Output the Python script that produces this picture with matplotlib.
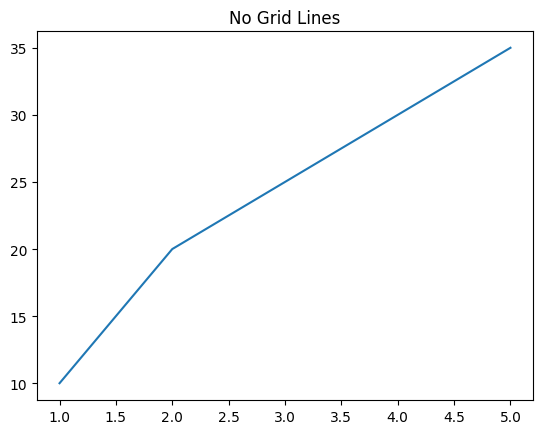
import matplotlib
matplotlib.use("Agg")
from matplotlib import pyplot as plt

x = [1, 2, 3, 4, 5]
y = [10, 20, 25, 30, 35]

fig = plt.figure(figsize=(5.43, 4.35), dpi=100)
# axes box: left 37, right 533, top 32, bottom 401 (px)
ax = fig.add_axes([37/543, 1 - 401/435, (533-37)/543, (401-32)/435])
ax.plot(x, y)
ax.set_title("No Grid Lines")
ax.grid(False)

fig.savefig("out.png", dpi=100)
